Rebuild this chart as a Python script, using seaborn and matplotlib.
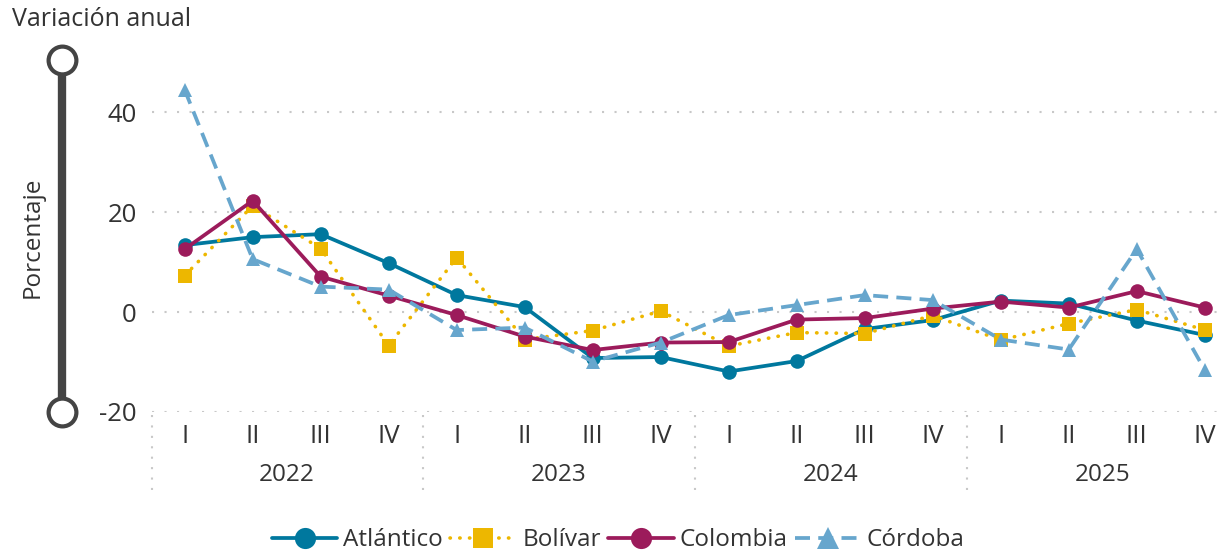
import numpy as np
import pandas as pd
import matplotlib.pyplot as plt
import seaborn as sns
from matplotlib.lines import Line2D

sns.set_style("white")
plt.rcParams['font.family'] = ['Open Sans', 'DejaVu Sans']
plt.rcParams['axes.unicode_minus'] = False

# Valores (variacion anual, %)
trimestres = ['I', 'II', 'III', 'IV'] * 4
anios = ['2022', '2023', '2024', '2025']

atlantico = [13.4, 15.0, 15.6, 9.8, 3.4, 1.0, -9.2, -9.0,
             -11.9, -9.8, -3.4, -1.6, 2.3, 1.7, -1.7, -4.6]
bolivar = [7.3, 21.3, 12.7, -6.7, 10.9, -5.5, -3.7, 0.2,
           -6.8, -4.1, -4.3, -0.7, -5.6, -2.3, 0.5, -3.6]
colombia = [12.6, 22.3, 7.1, 3.3, -0.6, -4.9, -7.6, -6.1,
            -6.0, -1.5, -1.2, 0.7, 2.1, 0.9, 4.2, 0.9]
cordoba = [44.5, 10.6, 5.1, 4.5, -3.6, -3.1, -9.9, -6.1,
           -0.6, 1.4, 3.4, 2.4, -5.5, -7.5, 12.6, -11.6]

series = {
    'Atlántico': (atlantico, dict(color='#00789E', marker='o', ms=10.5, lw=2.7, ls='-')),
    'Bolívar': (bolivar, dict(color='#EDB700', marker='s', ms=10, lw=2.6,
                              ls=(0, (0.1, 2.6)), dash_capstyle='round')),
    'Colombia': (colombia, dict(color='#9C1B5B', marker='o', ms=10.5, lw=2.7, ls='-')),
    'Córdoba': (cordoba, dict(color='#67A6CD', marker='^', ms=10.5, lw=2.7,
                              ls=(0, (4, 2.2)))),
}

txt = '#333333'
fig = plt.figure(figsize=(12.24, 5.55), dpi=100)
ax = fig.add_axes([0.1242, 0.2577, 0.874, 0.630])

pos = np.arange(len(trimestres))
for name, (vals, st) in series.items():
    df = pd.DataFrame({'pos': pos, 'valor': vals})
    sns.lineplot(data=df, x='pos', y='valor', ax=ax, label=name,
                 markeredgewidth=0, **st)

ax.set_xlim(-0.48, 15.25)
ax.set_ylim(-20, 50)
ax.set_yticks([-20, 0, 20, 40])
ax.set_xticks(pos)
ax.set_xticklabels(trimestres)
ax.tick_params(axis='both', length=0, labelsize=18.5, colors=txt)
ax.tick_params(axis='x', pad=9)
ax.tick_params(axis='y', pad=11)
ax.set_xlabel('')
ax.set_ylabel('')
for s in ax.spines.values():
    s.set_visible(False)
for yv in [-20, 0, 20, 40]:
    ax.axhline(yv, color='#C8C8C8', lw=1.5, ls=(0, (1, 5)), zorder=0)

# anios y separadores
tr = ax.get_xaxis_transform()
for i, a in enumerate(anios):
    ax.text(i * 4 + 1.5, -0.18, a, transform=tr, ha='center', va='center',
            fontsize=17.5, color=txt)
for xs in [-0.48, 3.5, 7.5, 11.5]:
    ax.plot([xs, xs], [-0.01, -0.23], transform=tr, color='#C8C8C8',
            lw=1.5, ls=(0, (1, 4)), clip_on=False)

# control deslizante del eje y
fig.add_artist(Line2D([62 / 1224, 62 / 1224], [1 - 60 / 555, 1 - 412 / 555],
                      color='#444444', lw=6, transform=fig.transFigure, zorder=1))
fig.add_artist(Line2D([62 / 1224, 62 / 1224], [1 - 60 / 555, 1 - 412 / 555],
                      ls='none', marker='o', ms=20, mfc='white', mec='#444444',
                      mew=3, transform=fig.transFigure, zorder=2))
fig.text(33 / 1224, 1 - 237 / 555, 'Porcentaje', rotation=90, ha='center',
         va='center', fontsize=17.5, color=txt)
fig.text(12 / 1224, 1 - 19 / 555, 'Variación anual', ha='left', va='center',
         fontsize=18, color=txt)

ax.legend(loc='center', bbox_to_anchor=(0.505, 0.027),
          bbox_transform=fig.transFigure, ncol=4, frameon=False,
          fontsize=17.5, handlelength=2.7, columnspacing=0.3, handletextpad=0.25,
          labelcolor=txt, markerscale=1.45)

fig.savefig('out.png', dpi=100)
